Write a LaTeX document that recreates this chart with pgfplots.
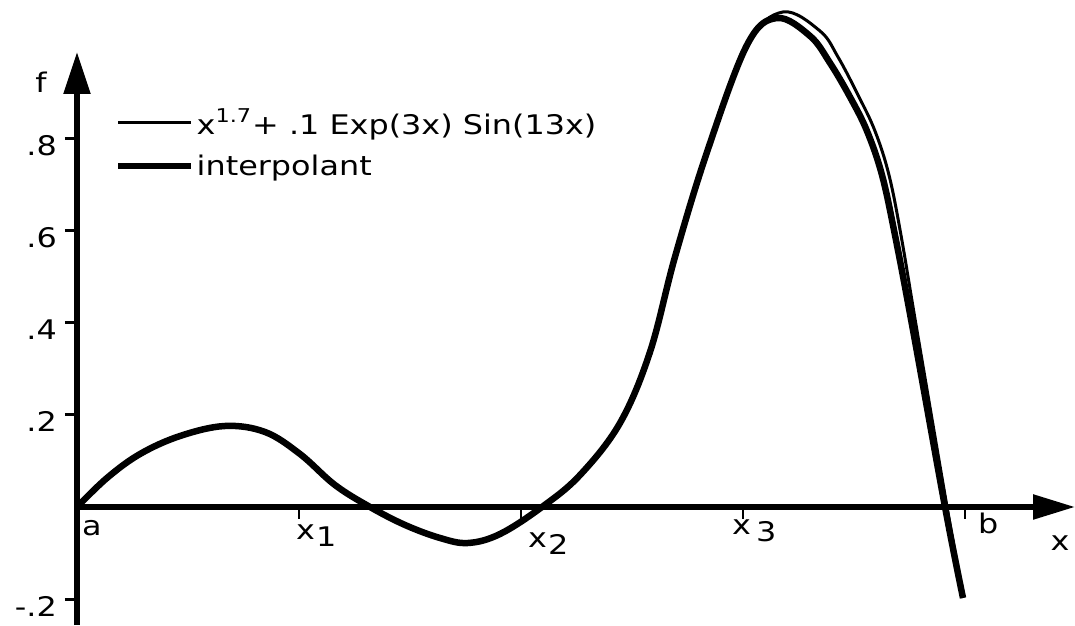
\documentclass[border=0pt]{standalone}
\usepackage{fontspec}
\setmainfont{DejaVu Sans}[FakeStretch=1.18]
\usepackage{pgfplots}
\pgfplotsset{compat=1.18}
\usetikzlibrary{arrows.meta}

\begin{document}
\begin{tikzpicture}[font=\fontsize{27}{32}\selectfont]
\begin{axis}[
  scale only axis, width=998pt, height=573pt,
  xmin=0, xmax=0.8991, ymin=-0.256, ymax=0.987,
  axis lines=middle,
  axis line style={line width=5.5pt, black},
  every inner x axis line/.append style={-{Triangle[length=42pt,width=24pt]}},
  every inner y axis line/.append style={-{Triangle[length=42pt,width=26pt]}},
  clip=false,
  xtick={0.2,0.4,0.6,0.8}, xticklabels={},
  ytick={-0.2,0.2,0.4,0.6,0.8}, yticklabels={-.2,.2,.4,.6,.8},
  tick align=outside, major tick length=12pt,
  xtick style={line width=2.5pt, black},
  ytick style={line width=3pt, black},
  yticklabel style={anchor=east, inner sep=0pt, xshift=-8pt, yshift=-7pt},
  every axis x label/.style={at={(axis description cs:0.985,0.143)}, anchor=center},
  every axis y label/.style={at={(axis description cs:-0.036,0.948)}, anchor=center},
  xlabel={x}, ylabel={f},
  legend style={at={(axis description cs:0.0381,0.905)}, anchor=north west,
    draw=none, fill=none, inner sep=0pt, row sep=15pt},
  legend cell align=left,
  legend image code/.code={\draw[#1] (0pt,0pt) -- (73pt,0pt);},
]
% the function x^1.7 + 0.1 exp(3x) sin(13x) on [a,b]
\addplot[black, line width=3pt, smooth, tension=0.6] coordinates {
  (0,0) (0.0270,0.0629) (0.0568,0.1150) (0.0928,0.1540) (0.1333,0.1757)
  (0.1694,0.1627) (0.2009,0.1150) (0.2324,0.0477) (0.2640,0)
  (0.2955,-0.0390) (0.3270,-0.0672) (0.3523,-0.0781) (0.3811,-0.0586)
  (0.4189,0) (0.4532,0.0694) (0.4892,0.1822) (0.5162,0.3362)
  (0.5387,0.5423) (0.5676,0.7701) (0.6036,1.0022) (0.6360,1.0738)
  (0.6694,1.0325) (0.6856,0.9761) (0.7036,0.8937) (0.7189,0.8156)
  (0.7315,0.7202) (0.7423,0.5900) (0.7559,0.3948) (0.7838,0)
  (0.7982,-0.1974)
};
\addlegendentry{x\raisebox{12pt}{\fontsize{19}{19}\selectfont 1.7}\kern1pt+ .1 Exp(3x) Sin(13x)}
% interpolant through a, x1, x2, x3, b
\addplot[black, line width=6.5pt, smooth, tension=0.6] coordinates {
  (0,0) (0.0270,0.0629) (0.0568,0.1150) (0.0928,0.1540) (0.1333,0.1757)
  (0.1694,0.1627) (0.2009,0.1150) (0.2324,0.0477) (0.2640,0)
  (0.2955,-0.0390) (0.3270,-0.0672) (0.3523,-0.0781) (0.3811,-0.0586)
  (0.4189,0) (0.4532,0.0694) (0.4892,0.1822) (0.5162,0.3362)
  (0.5387,0.5423) (0.5676,0.7701) (0.6036,1.0022) (0.6306,1.0607)
  (0.6604,1.0217) (0.6784,0.9631) (0.6964,0.8894) (0.7117,0.8156)
  (0.7252,0.7202) (0.7369,0.5900) (0.7523,0.3948) (0.7820,0)
  (0.7982,-0.1974)
};
\addlegendentry{interpolant}
% labels of the nodes under the x axis
\node[anchor=north west, inner sep=0pt, xshift=5pt, yshift=-13pt] at (axis cs:0,0) {a};
\node[anchor=north west, inner sep=0pt, xshift=-3pt, yshift=-18pt] at (axis cs:0.2,0) {x\kern1pt\raisebox{-7pt}{1}};
\node[anchor=north west, inner sep=0pt, xshift=7pt, yshift=-26pt] at (axis cs:0.4,0) {x\kern1pt\raisebox{-7pt}{2}};
\node[anchor=north west, inner sep=0pt, xshift=-11pt, yshift=-13pt] at (axis cs:0.6,0) {x\kern5pt\raisebox{-7pt}{3}};
\node[anchor=north west, inner sep=0pt, xshift=13pt, yshift=-6pt] at (axis cs:0.8,0) {b};
\end{axis}
\pgfresetboundingbox
\path (-77pt,0pt) rectangle (998pt,625pt);
\end{tikzpicture}
\end{document}
